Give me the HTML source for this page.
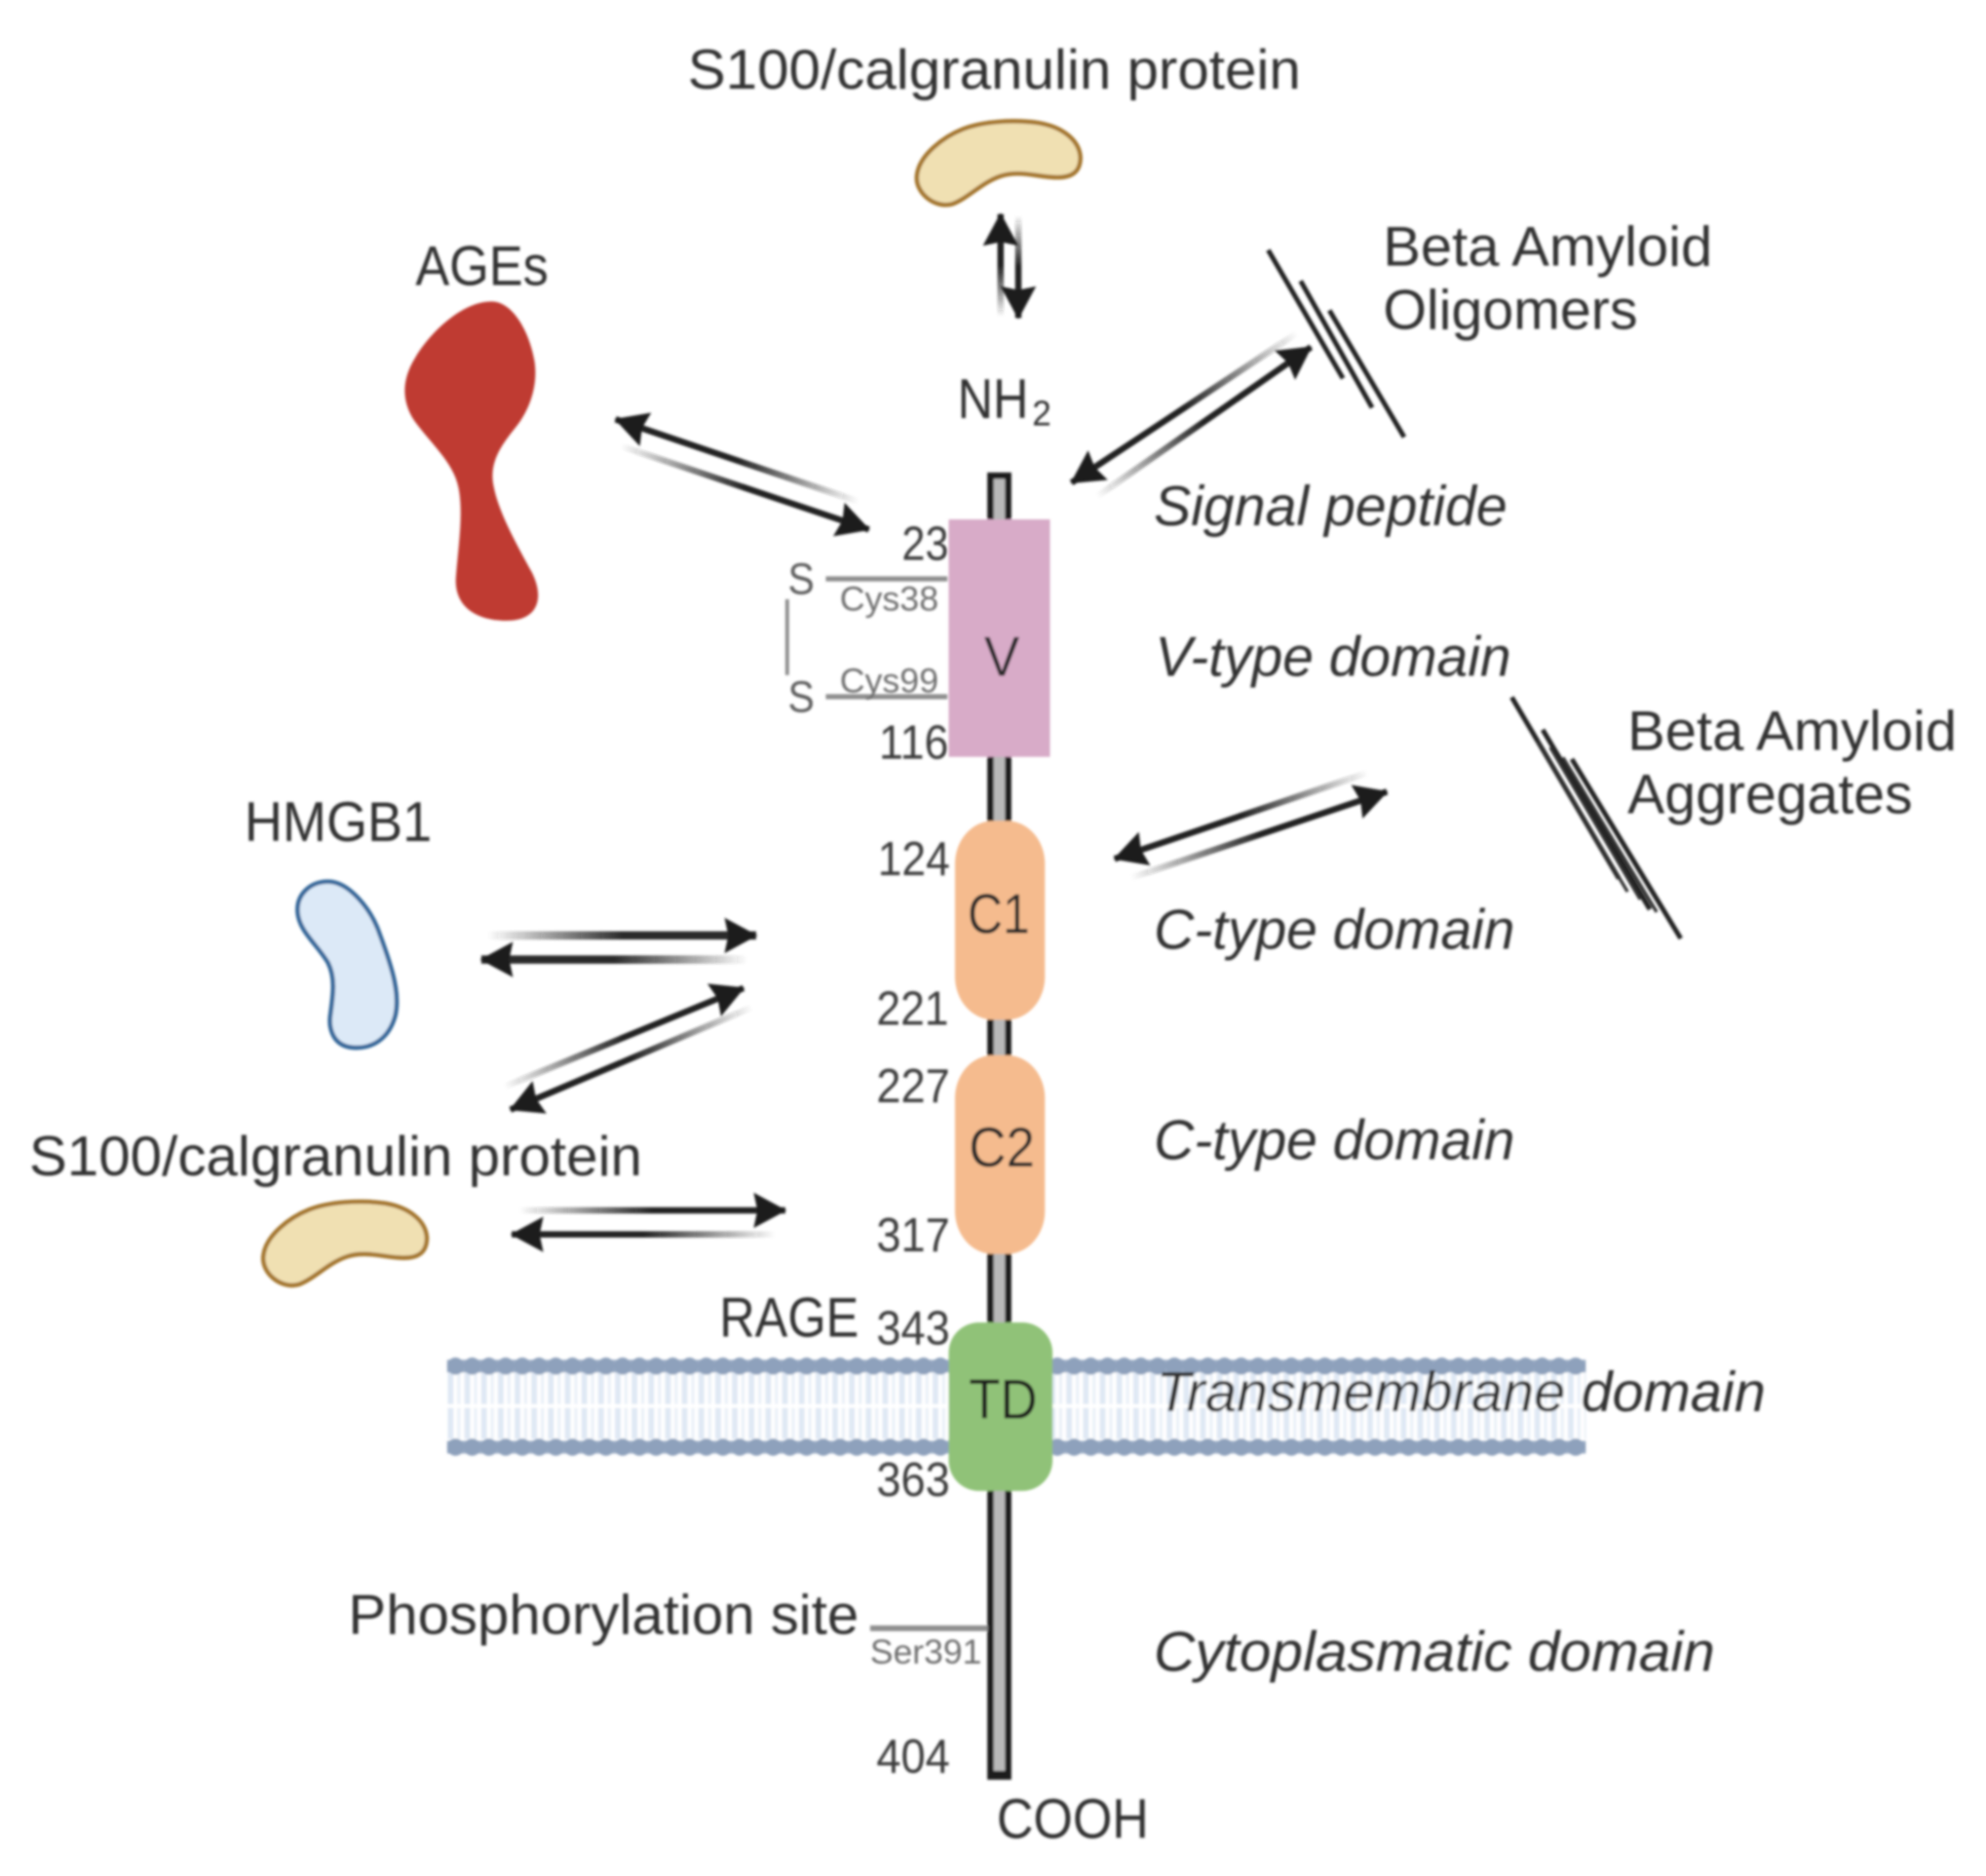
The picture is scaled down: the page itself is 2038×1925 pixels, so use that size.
<!DOCTYPE html>
<html>
<head>
<meta charset="utf-8">
<style>
html,body{margin:0;padding:0;background:#fff;width:2038px;height:1925px;overflow:hidden}
svg{display:block}
text{font-family:"Liberation Sans",sans-serif;fill:#333}
.l{font-size:44px}
.i{font-size:44px;font-style:italic}
.n{font-size:38px;fill:#3c3c3c}
.g{font-size:27px;fill:#707070}
</style>
</head>
<body>
<svg width="2038" height="1925" viewBox="0 0 1568 1481" xmlns="http://www.w3.org/2000/svg">
<defs>
<filter id="b" x="-5%" y="-5%" width="110%" height="110%"><feGaussianBlur stdDeviation="1"/></filter>
<marker id="h" markerUnits="userSpaceOnUse" markerWidth="28" markerHeight="30" refX="25" refY="15" orient="auto">
<path d="M0,1 L26,15 L0,29 L3,15Z" fill="#1f1f1f"/>
</marker>
<pattern id="tail" x="353" y="1084" width="13.2" height="52" patternUnits="userSpaceOnUse">
<rect x="0" y="0" width="13.2" height="52" fill="#fff"/>
<rect x="0.500" y="0" width="4.500" height="24.500" fill="#dfe8f4"/>
<rect x="8" y="0" width="2.500" height="24.500" fill="#eaf0f8"/>
<rect x="0.500" y="27.500" width="4.500" height="24.500" fill="#dfe8f4"/>
<rect x="8" y="27.500" width="2.500" height="24.500" fill="#eaf0f8"/>
</pattern>
<pattern id="heads" x="353" y="1071.500" width="13.2" height="14" patternUnits="userSpaceOnUse">
<rect y="2" width="13.2" height="10" fill="#9aacc5"/>
<circle cx="6.600" cy="7" r="6.800" fill="#8ea1bc"/>
</pattern>
<pattern id="heads2" x="353" y="1135.500" width="13.2" height="14" patternUnits="userSpaceOnUse">
<rect y="2" width="13.2" height="10" fill="#9aacc5"/>
<circle cx="6.600" cy="7" r="6.800" fill="#8ea1bc"/>
</pattern>
<linearGradient id="a1" gradientUnits="userSpaceOnUse" x1="790" y1="250" x2="790" y2="169"><stop offset="0" stop-color="#222" stop-opacity="0"/><stop offset=".5" stop-color="#222"/></linearGradient>
<linearGradient id="a2" gradientUnits="userSpaceOnUse" x1="804" y1="170" x2="804" y2="251"><stop offset="0" stop-color="#222" stop-opacity="0"/><stop offset=".5" stop-color="#222"/></linearGradient>
<linearGradient id="a3" gradientUnits="userSpaceOnUse" x1="678" y1="396" x2="486" y2="331"><stop offset="0" stop-color="#222" stop-opacity="0"/><stop offset=".5" stop-color="#222"/></linearGradient>
<linearGradient id="a4" gradientUnits="userSpaceOnUse" x1="490" y1="352" x2="686" y2="418"><stop offset="0" stop-color="#222" stop-opacity="0"/><stop offset=".5" stop-color="#222"/></linearGradient>
<linearGradient id="a5" gradientUnits="userSpaceOnUse" x1="1024" y1="263" x2="846" y2="381"><stop offset="0" stop-color="#222" stop-opacity="0"/><stop offset=".5" stop-color="#222"/></linearGradient>
<linearGradient id="a6" gradientUnits="userSpaceOnUse" x1="866" y1="392" x2="1035" y2="274"><stop offset="0" stop-color="#222" stop-opacity="0"/><stop offset=".5" stop-color="#222"/></linearGradient>
<linearGradient id="a7" gradientUnits="userSpaceOnUse" x1="1080" y1="610" x2="880" y2="678"><stop offset="0" stop-color="#222" stop-opacity="0"/><stop offset=".5" stop-color="#222"/></linearGradient>
<linearGradient id="a8" gradientUnits="userSpaceOnUse" x1="893" y1="693" x2="1095" y2="625"><stop offset="0" stop-color="#222" stop-opacity="0"/><stop offset=".5" stop-color="#222"/></linearGradient>
<linearGradient id="a9" gradientUnits="userSpaceOnUse" x1="385" y1="738.500" x2="597" y2="738.500"><stop offset="0" stop-color="#2c2c2c" stop-opacity="0"/><stop offset=".5" stop-color="#2c2c2c"/></linearGradient>
<linearGradient id="a10" gradientUnits="userSpaceOnUse" x1="590" y1="757.500" x2="380" y2="757.500"><stop offset="0" stop-color="#2c2c2c" stop-opacity="0"/><stop offset=".5" stop-color="#2c2c2c"/></linearGradient>
<linearGradient id="a11" gradientUnits="userSpaceOnUse" x1="398" y1="858" x2="587" y2="780"><stop offset="0" stop-color="#222" stop-opacity="0"/><stop offset=".5" stop-color="#222"/></linearGradient>
<linearGradient id="a12" gradientUnits="userSpaceOnUse" x1="594" y1="795" x2="403" y2="876"><stop offset="0" stop-color="#222" stop-opacity="0"/><stop offset=".5" stop-color="#222"/></linearGradient>
<linearGradient id="a13" gradientUnits="userSpaceOnUse" x1="410" y1="955.500" x2="620" y2="955.500"><stop offset="0" stop-color="#222" stop-opacity="0"/><stop offset=".5" stop-color="#222"/></linearGradient>
<linearGradient id="a14" gradientUnits="userSpaceOnUse" x1="612" y1="974.500" x2="404" y2="974.500"><stop offset="0" stop-color="#222" stop-opacity="0"/><stop offset=".5" stop-color="#222"/></linearGradient>
</defs>
<rect width="1568" height="1481" fill="#fff"/>
<g filter="url(#b)">
<!-- membrane -->
<rect x="353" y="1084" width="899" height="52" fill="url(#tail)"/>
<rect x="353" y="1071.500" width="899" height="14" fill="url(#heads)"/>
<rect x="353" y="1135.500" width="899" height="14" fill="url(#heads2)"/>
<!-- stem -->
<rect x="779.500" y="373" width="19" height="1032" fill="#1c1c1c"/>
<rect x="784.500" y="378" width="9" height="1020" fill="#b8b8b8"/>
<!-- side lines -->
<g stroke="#8f8f8f" fill="none">
<line x1="652" y1="457" x2="748" y2="457" stroke-width="4"/>
<line x1="652" y1="550" x2="748" y2="550" stroke-width="4"/>
<line x1="621.500" y1="473" x2="621.500" y2="533" stroke-width="3"/>
<line x1="687" y1="1285.500" x2="780" y2="1285.500" stroke-width="4.500"/>
</g>
<!-- domains -->
<rect x="749" y="410" width="80" height="187.500" fill="#d8abc8"/>
<rect x="754" y="648" width="71" height="157" rx="30" ry="34" fill="#f5bb8e"/>
<rect x="754" y="833" width="71" height="157" rx="30" ry="34" fill="#f5bb8e"/>
<rect x="749" y="1044" width="82" height="133" rx="24" ry="24" fill="#90c278"/>
<!-- molecules -->
<path d="M724,138 C726,122 745,108 760,102 C775,96 800,94 820,97 C838,100 852,110 853,124 C853,136 846,140 835,140 C820,140 805,134 790,139 C775,144 765,156 752,161 C738,165 722,152 724,138Z" fill="#f0e0b2" stroke="#a5772f" stroke-width="3.500"/>
<path d="M208,991 C210,975 229,961 244,955 C259,949 284,947 304,950 C322,953 336,963 337,977 C337,989 330,993 319,993 C304,993 289,987 274,992 C259,997 249,1009 236,1014 C222,1018 206,1005 208,991Z" fill="#f0e0b2" stroke="#a5772f" stroke-width="3.500"/>
<path d="M388,238 C405,238 418,262 422,285 C425,305 418,325 405,340 C393,355 386,368 390,385 C394,405 408,430 420,452 C430,472 425,490 400,490 C375,490 358,478 360,455 C362,430 366,405 362,385 C358,365 340,350 327,332 C316,315 318,298 328,282 C340,262 365,238 388,238Z" fill="#bf3a30"/>
<path d="M259,696 C275,696 293,717 300,738 C310,765 316,785 312,802 C307,820 294,828 279,827 C263,826 259,812 261,800 C263,785 265,772 259,760 C250,745 236,735 235,720 C234,706 245,696 259,696Z" fill="#dce9f7" stroke="#34689a" stroke-width="3.500"/>
<!-- amyloid -->
<g stroke="#222" stroke-width="3.800" fill="none">
<line x1="1001.300" y1="197.400" x2="1060.300" y2="298.700"/>
<line x1="1026.900" y1="221.800" x2="1083.300" y2="321.800"/>
<line x1="1049.600" y1="245" x2="1108.600" y2="345"/>
<line x1="1193.600" y1="550.500" x2="1278.200" y2="693.600"/>
<line x1="1218" y1="576.100" x2="1302.600" y2="717.900"/>
<line x1="1241" y1="599.200" x2="1327" y2="740.900"/>
</g>
<g stroke="#333" stroke-width="2.600" fill="none">
<line x1="1214" y1="585" x2="1285" y2="704"/>
<line x1="1224" y1="590" x2="1295" y2="710"/>
<line x1="1234" y1="598" x2="1308" y2="720"/>
</g>
<!-- arrows -->
<g fill="none" stroke-width="5">
<line x1="790" y1="250" x2="790" y2="169" stroke="url(#a1)" marker-end="url(#h)"/>
<line x1="804" y1="170" x2="804" y2="251" stroke="url(#a2)" marker-end="url(#h)"/>
<line x1="678" y1="396" x2="486" y2="331" stroke="url(#a3)" marker-end="url(#h)"/>
<line x1="490" y1="352" x2="686" y2="418" stroke="url(#a4)" marker-end="url(#h)"/>
<line x1="1024" y1="263" x2="846" y2="381" stroke="url(#a5)" marker-end="url(#h)"/>
<line x1="866" y1="392" x2="1035" y2="274" stroke="url(#a6)" marker-end="url(#h)"/>
<line x1="1080" y1="610" x2="880" y2="678" stroke="url(#a7)" marker-end="url(#h)"/>
<line x1="893" y1="693" x2="1095" y2="625" stroke="url(#a8)" marker-end="url(#h)"/>
<line x1="385" y1="738.500" x2="597" y2="738.500" stroke="url(#a9)" stroke-width="6.500" marker-end="url(#h)"/>
<line x1="590" y1="757.500" x2="380" y2="757.500" stroke="url(#a10)" stroke-width="6.500" marker-end="url(#h)"/>
<line x1="398" y1="858" x2="587" y2="780" stroke="url(#a11)" marker-end="url(#h)"/>
<line x1="594" y1="795" x2="403" y2="876" stroke="url(#a12)" marker-end="url(#h)"/>
<line x1="410" y1="955.500" x2="620" y2="955.500" stroke="url(#a13)" marker-end="url(#h)"/>
<line x1="612" y1="974.500" x2="404" y2="974.500" stroke="url(#a14)" marker-end="url(#h)"/>
</g>
<!-- labels -->
<text class="l" x="543" y="70" textLength="484" lengthAdjust="spacingAndGlyphs">S100/calgranulin protein</text>
<text class="l" x="328" y="225" textLength="105" lengthAdjust="spacingAndGlyphs">AGEs</text>
<text class="l" x="1092" y="209.500" textLength="260" lengthAdjust="spacingAndGlyphs">Beta Amyloid</text>
<text class="l" x="1092" y="259.500" textLength="201" lengthAdjust="spacingAndGlyphs">Oligomers</text>
<text class="l" x="756" y="330" textLength="56" lengthAdjust="spacingAndGlyphs">NH</text>
<text x="815" y="336" style="font-size:28px" textLength="15" lengthAdjust="spacingAndGlyphs">2</text>
<text class="i" x="911" y="414.500" textLength="279" lengthAdjust="spacingAndGlyphs">Signal peptide</text>
<text class="i" x="912" y="533.500" textLength="281" lengthAdjust="spacingAndGlyphs">V-type domain</text>
<text class="i" x="911" y="749" textLength="285" lengthAdjust="spacingAndGlyphs">C-type domain</text>
<text class="i" x="911" y="915" textLength="285" lengthAdjust="spacingAndGlyphs">C-type domain</text>
<text class="i" x="913" y="1114" textLength="481" lengthAdjust="spacingAndGlyphs">Transmembrane domain</text>
<text class="i" x="911" y="1319" textLength="443" lengthAdjust="spacingAndGlyphs">Cytoplasmatic domain</text>
<text class="l" x="1285" y="592" textLength="260" lengthAdjust="spacingAndGlyphs">Beta Amyloid</text>
<text class="l" x="1285" y="642" textLength="225" lengthAdjust="spacingAndGlyphs">Aggregates</text>
<text class="l" x="193" y="664" textLength="148" lengthAdjust="spacingAndGlyphs">HMGB1</text>
<text class="l" x="23" y="928" textLength="484" lengthAdjust="spacingAndGlyphs">S100/calgranulin protein</text>
<text class="l" x="568" y="1055" textLength="110" lengthAdjust="spacingAndGlyphs">RAGE</text>
<text class="l" x="275" y="1290" textLength="403" lengthAdjust="spacingAndGlyphs">Phosphorylation site</text>
<text class="l" x="787" y="1451" textLength="120" lengthAdjust="spacingAndGlyphs">COOH</text>
<text class="n" x="712" y="442" textLength="37" lengthAdjust="spacingAndGlyphs">23</text>
<text class="n" x="694" y="599" textLength="55" lengthAdjust="spacingAndGlyphs">116</text>
<text class="n" x="693" y="691" textLength="57" lengthAdjust="spacingAndGlyphs">124</text>
<text class="n" x="692" y="809" textLength="57" lengthAdjust="spacingAndGlyphs">221</text>
<text class="n" x="692" y="870" textLength="58" lengthAdjust="spacingAndGlyphs">227</text>
<text class="n" x="692" y="988" textLength="58" lengthAdjust="spacingAndGlyphs">317</text>
<text class="n" x="692" y="1061.500" textLength="58" lengthAdjust="spacingAndGlyphs">343</text>
<text class="n" x="692" y="1181" textLength="58" lengthAdjust="spacingAndGlyphs">363</text>
<text class="n" x="692" y="1399.500" textLength="58" lengthAdjust="spacingAndGlyphs">404</text>
<text x="622" y="469" style="font-size:35px;fill:#5e5e5e" textLength="21" lengthAdjust="spacingAndGlyphs">S</text>
<text x="622" y="562" style="font-size:35px;fill:#5e5e5e" textLength="21" lengthAdjust="spacingAndGlyphs">S</text>
<text class="g" x="663" y="482" textLength="78" lengthAdjust="spacingAndGlyphs">Cys38</text>
<text class="g" x="663" y="546.500" textLength="78" lengthAdjust="spacingAndGlyphs">Cys99</text>
<text class="g" x="687" y="1313.500" textLength="88" lengthAdjust="spacingAndGlyphs">Ser391</text>
<text x="777" y="533.500" style="font-size:44px;fill:#2a2a2a" textLength="28" lengthAdjust="spacingAndGlyphs">V</text>
<text x="764" y="736.500" style="font-size:44px;fill:#2a2a2a" textLength="49" lengthAdjust="spacingAndGlyphs">C1</text>
<text x="765" y="921" style="font-size:44px;fill:#2a2a2a" textLength="52" lengthAdjust="spacingAndGlyphs">C2</text>
<text x="765" y="1120" style="font-size:44px;fill:#1f1f1f" textLength="54" lengthAdjust="spacingAndGlyphs">TD</text>
</g>
</svg>
</body>
</html>
